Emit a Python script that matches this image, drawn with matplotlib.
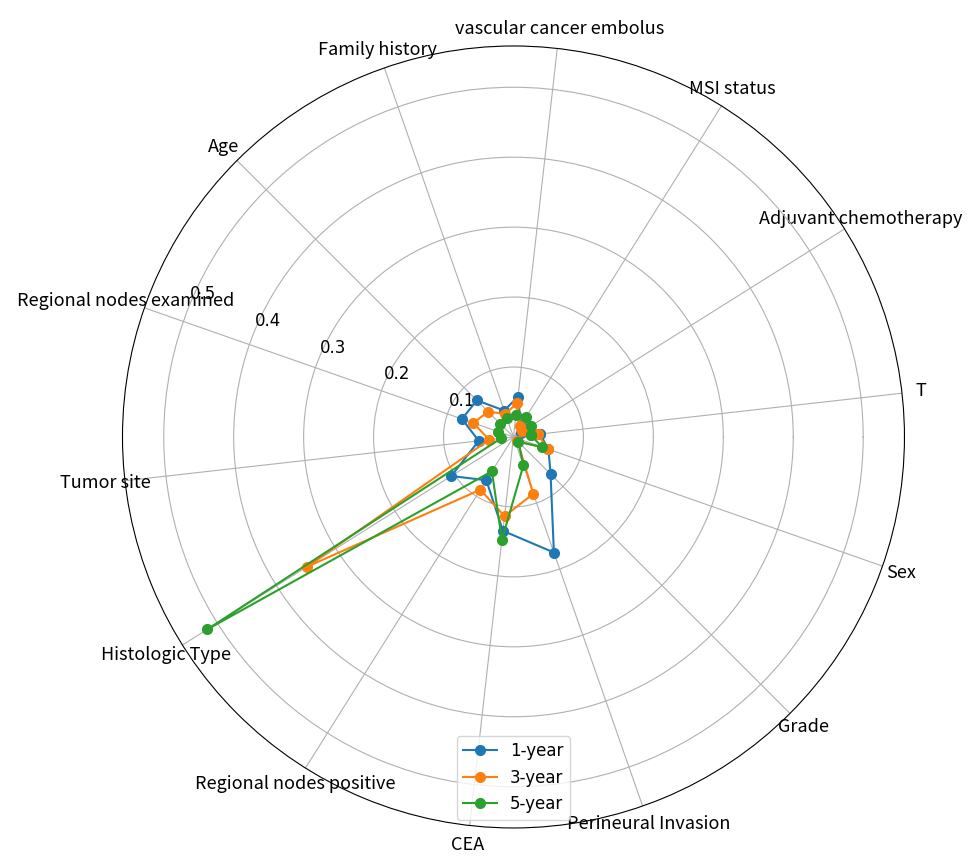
import numpy as np
import matplotlib.pyplot as plt

plt.rcParams['font.family'] = ['DejaVu Sans']

categories = ["T", "Adjuvant chemotherapy", "MSI status", "vascular cancer embolus",
              "Family history", "Age", "Regional nodes examined", "Tumor site",
              "Histologic Type", "Regional nodes positive", "CEA",
              "Perineural Invasion", "Grade", "Sex"]

one_year = [0.038, 0.012, 0.020, 0.058, 0.040, 0.074, 0.078, 0.050,
            0.105, 0.073, 0.135, 0.175, 0.075, 0.053]
three_year = [0.035, 0.015, 0.018, 0.049, 0.035, 0.051, 0.061, 0.035,
              0.349, 0.089, 0.114, 0.086, 0.008, 0.052]
five_year = [0.025, 0.029, 0.033, 0.032, 0.029, 0.027, 0.023, 0.018,
             0.517, 0.058, 0.148, 0.043, 0.010, 0.043]

series_names = ["1-year", "3-year", "5-year"]


def closed(values):
    return list(values) + [values[0]]


n = len(categories)
step = 360.0 / n
angles_deg = step / 4 + np.arange(n) * step
angles = np.deg2rad(angles_deg)
angles_closed = np.append(angles, angles[0])

fig = plt.figure(figsize=(9.69, 8.59), dpi=100)
ax = fig.add_axes([0.1264, 0.0361, 0.807, 0.9104], projection="polar")

for vals, name in zip([one_year, three_year, five_year], series_names):
    ax.plot(angles_closed, closed(vals), "o-", linewidth=1.5, markersize=7, label=name)

ax.set_thetagrids(angles_deg, categories, fontsize=13,
                  family=["Noto Sans CJK SC", "DejaVu Sans"])
ax.set_ylim(0, 0.559)
ax.set_yticks([0.1, 0.2, 0.3, 0.4, 0.5])
ax.set_yticklabels(["0.1", "0.2", "0.3", "0.4", "0.5"], fontsize=12)
ax.set_rlabel_position(157.5)
ax.grid(True)
ax.legend(loc="lower center", fontsize=12)

fig.savefig("out.png", dpi=100)
